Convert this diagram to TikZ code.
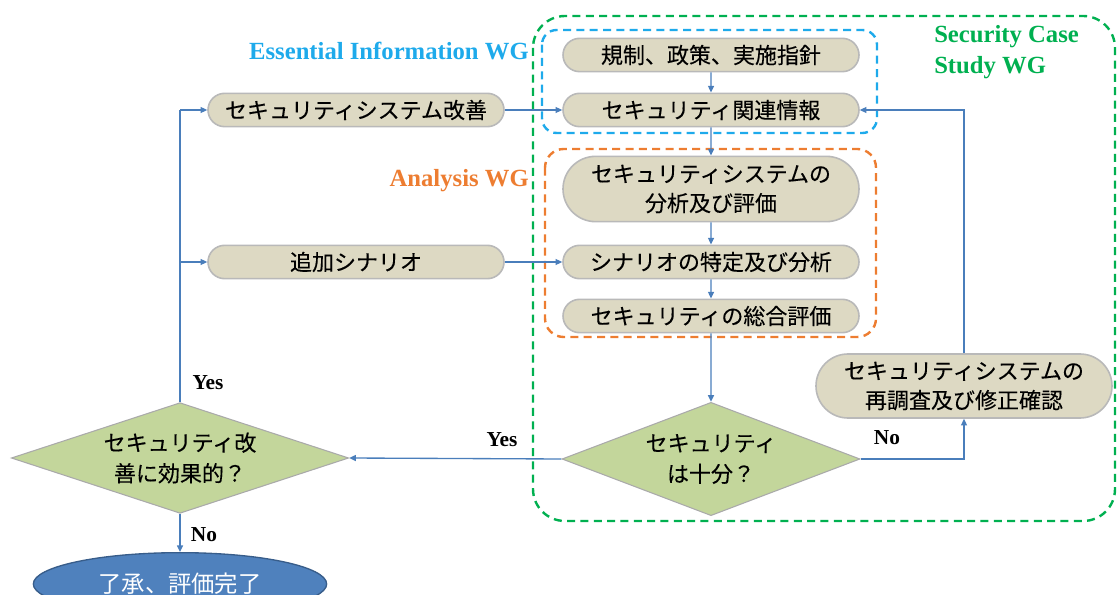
\documentclass[tikz,border=0pt]{standalone}
\usepackage{fontspec}
\setmainfont{Liberation Serif}
\newfontfamily\jp[FakeBold=0.2]{Noto Sans CJK JP}
\newfontfamily\jpthin{Noto Sans CJK JP}
\usetikzlibrary{shapes.geometric,shapes.misc,arrows.meta}
\definecolor{boxfill}{RGB}{221,217,195}
\definecolor{boxline}{RGB}{185,185,185}
\definecolor{dfill}{RGB}{195,214,155}
\definecolor{dline}{RGB}{170,170,170}
\definecolor{efill}{RGB}{79,129,189}
\definecolor{eline}{RGB}{56,93,138}
\definecolor{conn}{RGB}{74,126,187}
\definecolor{wgblue}{RGB}{30,170,235}
\definecolor{wgorange}{RGB}{237,125,49}
\definecolor{wggreen}{RGB}{0,176,80}
\begin{document}
\begin{tikzpicture}[x=0.75pt,y=-0.75pt,
  box/.style={rounded rectangle, draw=boxline, line width=1.2pt, fill=boxfill,
    font=\jp\fontsize{16.5}{22}\selectfont, align=center,
    minimum width=226pt, minimum height=25pt, inner sep=2pt},
  dia/.style={diamond, aspect=2.6, draw=dline, line width=0.8pt, fill=dfill,
    font=\jp\fontsize{16.5}{23}\selectfont, align=center, inner sep=0pt},
  ell/.style={ellipse, draw=eline, line width=1pt, fill=efill, text=white,
    font=\jpthin\fontsize{17.5}{20}\selectfont, inner sep=0pt,
    minimum width=220pt, minimum height=47pt},
  conn/.style={draw=conn, line width=1pt},
  arr/.style={conn, -{Triangle[length=5pt,width=4.5pt]}},
  lbl/.style={font=\fontsize{16}{18}\selectfont\bfseries, inner sep=0pt},
  wg/.style={font=\fontsize{18.5}{23.5}\selectfont\bfseries, inner sep=0pt},
  wgbox/.style={dash pattern=on 6pt off 4pt, line width=1.8pt}
]
\clip (0,0) rectangle (1118,595);

% dashed group frames
\draw[wgbox, draw=wggreen, rounded corners=24pt] (533,16) rectangle (1115,521);
\draw[wgbox, draw=wgblue, rounded corners=11pt] (542,30) rectangle (877,133);
\draw[wgbox, draw=wgorange, rounded corners=14pt] (545,149) rectangle (876,337);

% group labels
\node[wg, text=wgblue, anchor=east] (ew) at (529,51) {Essential Information WG};
\node[wg, text=wgorange, anchor=east] (aw) at (529,181) {Analysis WG};
\node[wg, text=wggreen, anchor=west, align=left] (sw) at (934,52) {Security Case\\Study WG};

% nodes
\node[box] (reg) at (711,55) {規制、政策、実施指針};
\node[box] (rel) at (711,110) {セキュリティ関連情報};
\node[box] (imp) at (356,110) {セキュリティシステム改善};
\node[box, minimum height=49pt] (ana) at (711,189) {セキュリティシステムの\\分析及び評価};
\node[box] (add) at (356,262) {追加シナリオ};
\node[box] (scn) at (711,262) {シナリオの特定及び分析};
\node[box] (tot) at (711,316) {セキュリティの総合評価};
\node[box, minimum height=48pt] (rev) at (964,386) {セキュリティシステムの\\再調査及び修正確認};
\node[dia, minimum width=223.5pt, minimum height=85pt] (d1) at (711,459) {セキュリティ\\は十分？};
\node[dia, minimum width=253pt, minimum height=83pt] (d2) at (180,458) {セキュリティ改\\善に効果的？};
\node[ell] (fin) at (180,584) {了承、評価完了};

% connectors
\coordinate (j1) at (180,110);
\coordinate (j2) at (180,262);
\draw[conn] (d2.north) -- (j1);
\draw[arr] (j1) -- (imp.west);
\draw[arr] (j2) -- (add.west);
\draw[arr] (imp.east) -- (rel.west);
\draw[arr] (add.east) -- (scn.west);
\draw[arr] (reg) -- (rel);
\draw[arr] (rel) -- (ana);
\draw[arr] (ana) -- (scn);
\draw[arr] (scn) -- (tot);
\draw[arr] (tot) -- (d1);
\draw[arr] (d1.west) -- (d2.east);
\draw[arr] (d1.east) -| (rev.south);
\draw[arr] (rev.north) |- (rel.east);
\draw[arr] (d2.south) -- (fin.north);

% branch labels
\node[lbl] (y1) at (208,383) {Yes};
\node[lbl] (n1) at (204,535) {No};
\node[lbl] (y2) at (502,440) {Yes};
\node[lbl] (n2) at (887,438) {No};
\end{tikzpicture}
\end{document}
